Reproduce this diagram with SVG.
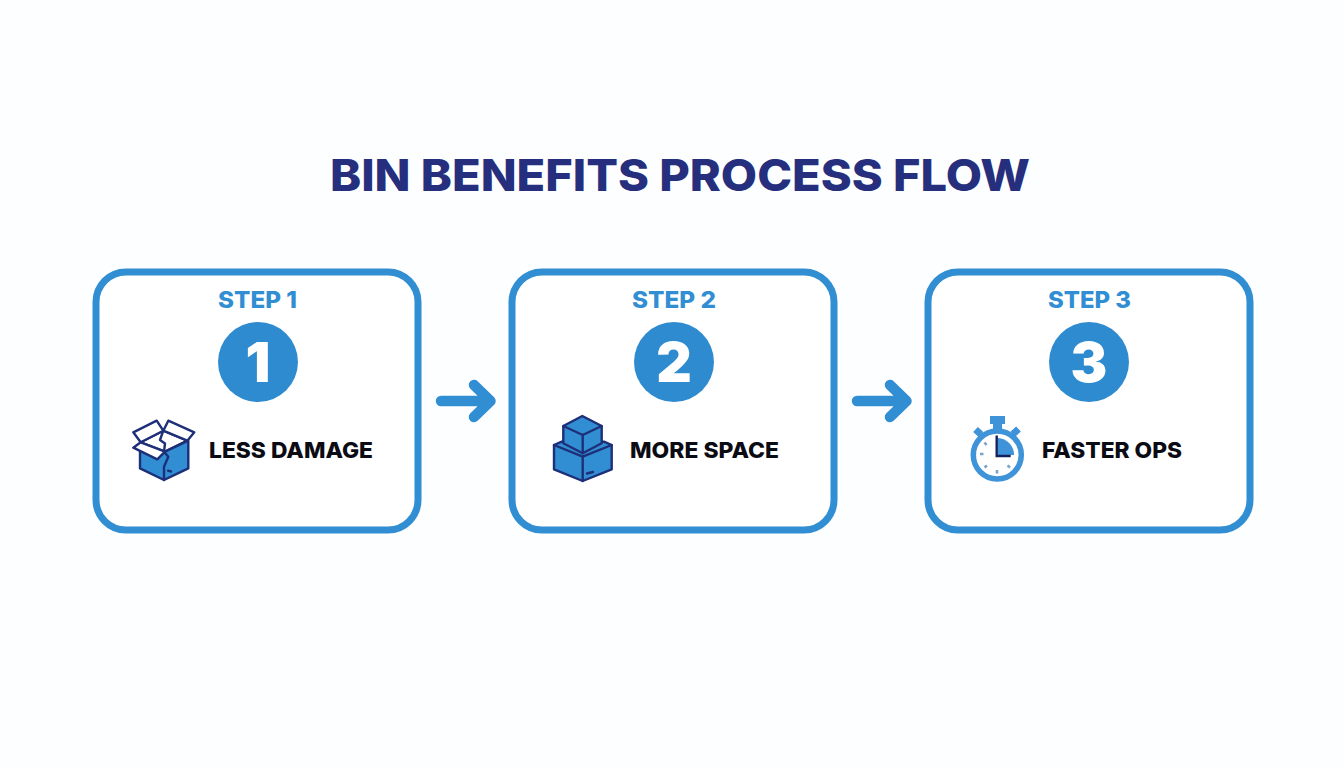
<svg xmlns="http://www.w3.org/2000/svg" width="1344" height="768" viewBox="0 0 1344 768">
<style>
.card{fill:#fff;stroke:#318ed3;stroke-width:7}
.step{font:800 23px "Inter","Liberation Sans",sans-serif;fill:#318ed3}
.num{font:900 55px "Inter","Liberation Sans",sans-serif;fill:#fff;text-anchor:middle}
.lab{font:800 22px "Inter","Liberation Sans",sans-serif;fill:#0b0b14}
.badge{fill:#2f8bd0}
.d{stroke:#1d2f78;stroke-width:2.4;stroke-linejoin:round;stroke-linecap:round}
.arrow{fill:none;stroke:#318ed3;stroke-width:10.5;stroke-linecap:round;stroke-linejoin:round}
</style>
<rect width="1344" height="768" fill="#fdfeff"/>
<text id="title" x="330" y="191" font-family="Inter,'Liberation Sans',sans-serif" font-weight="800" font-size="44" fill="#262f7d" textLength="700" lengthAdjust="spacingAndGlyphs">BIN BENEFITS PROCESS FLOW</text>
<g id="connectors">
<path class="arrow" d="M441 401H488M474 385L490.500 401L474 417"/>
<path class="arrow" d="M857 401H904M890 385L906.500 401L890 417"/>
</g>
<g id="node1">
<rect class="card" x="96" y="272" width="322" height="258" rx="30"/>
<text class="step" x="218" y="308" textLength="79" lengthAdjust="spacingAndGlyphs">STEP 1</text>
<circle class="badge" cx="258" cy="362" r="40"/>
<text class="num" x="258" y="382">1</text>
<g class="d">
<path d="M140.700 442.300L163.300 430.700L187.300 440.700L165 451.700Z" fill="#fff"/>
<path d="M140 450V468.300L164 480L188.300 468.300V440.700L165 451.700Z" fill="#318ed3"/>
<path d="M133.300 432.300L156.700 420.700L163.300 430.700L140.700 442.300Z" fill="#fff"/>
<path d="M168.300 420.700L194.300 432.300L187.300 440.700L163.300 430.700Z" fill="#fff"/>
<path d="M140.700 442.300L133.300 447.700L157.300 459.300L165 451.700Z" fill="#fff"/>
<path d="M163.300 430.700L160 440L165 443.500L164 451.700L168.300 456.700L164 466.700V480M168 470.700L171 471.500" fill="none"/>
</g>
<text class="lab" x="209" y="458" textLength="164" lengthAdjust="spacingAndGlyphs">LESS DAMAGE</text>
</g>
<g id="node2">
<rect class="card" x="512" y="272" width="322" height="258" rx="30"/>
<text class="step" x="632" y="308" textLength="84" lengthAdjust="spacingAndGlyphs">STEP 2</text>
<circle class="badge" cx="674" cy="362" r="40"/>
<text class="num" x="674" y="382">2</text>
<g class="d" fill="#318ed3">
<path d="M554 445L561.700 441.700H604L611.700 445V469.300L582.700 481L554 469.300Z"/>
<path d="M554 445L582.700 456.700L611.700 445M582.700 456.700V481" fill="none"/>
<path d="M563.300 426L582.300 416L601.700 426V443.300L582.700 453.300L563.300 443.300Z"/>
<path d="M563.300 426L582.700 435L601.700 426M582.700 435V453.300" fill="none"/>
<path d="M587 473.500L593 472" fill="none"/>
</g>
<text class="lab" x="630" y="458" textLength="149" lengthAdjust="spacingAndGlyphs">MORE SPACE</text>
</g>
<g id="node3">
<rect class="card" x="928" y="272" width="322" height="258" rx="30"/>
<text class="step" x="1048" y="308" textLength="83" lengthAdjust="spacingAndGlyphs">STEP 3</text>
<circle class="badge" cx="1089" cy="362" r="40"/>
<text class="num" x="1089" y="382">3</text>
<path d="M990 416H1005V424H1002V430H993V424H990Z" fill="#3f93d8"/>
<path d="M975.500 429.500L981 434.500M1018.500 429L1013 434" stroke="#3f93d8" stroke-width="7"/>
<circle cx="997.300" cy="455" r="24" fill="#fff" stroke="#3f93d8" stroke-width="5.500"/>
<path d="M998 438A17 17 0 0 1 1014 455H998Z" fill="#3f93d8"/>
<path d="M996.700 435.500V456H1010.700" fill="none" stroke="#12205e" stroke-width="2.400"/>
<path d="M984.500 442.500L986.500 445M980 454H983.500M984.500 467.500L987 465.500M997 470V473.500M1007.500 465.500L1010 467.500" stroke="#7ca4c6" stroke-width="2.600"/>
<text class="lab" x="1042" y="458" textLength="140" lengthAdjust="spacingAndGlyphs">FASTER OPS</text>
</g>
</svg>
